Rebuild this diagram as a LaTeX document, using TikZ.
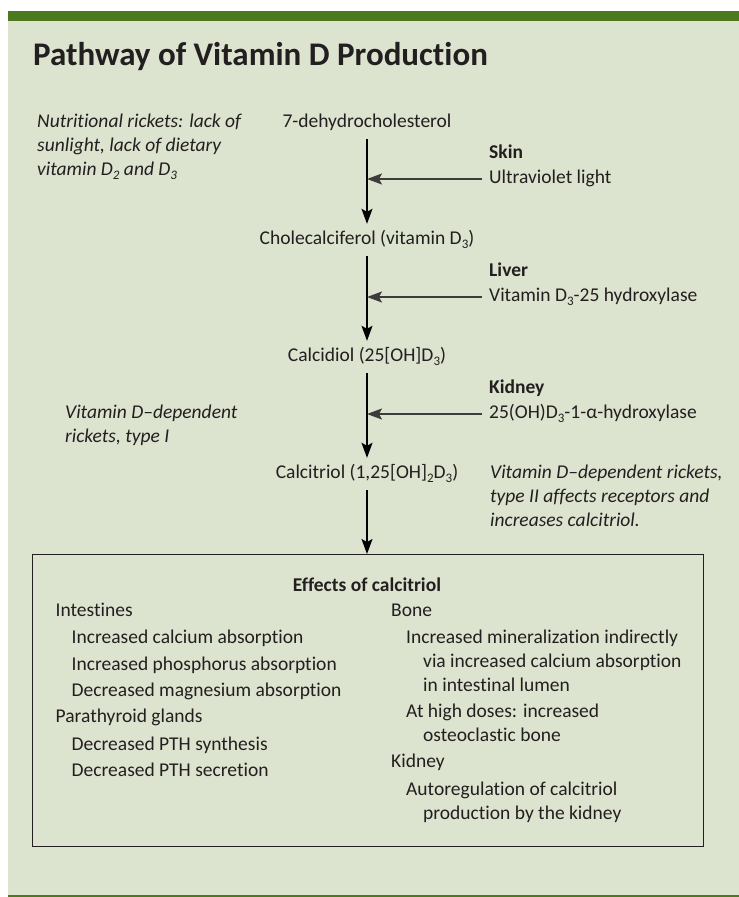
\documentclass[tikz,border=0pt]{standalone}
\usepackage{fontspec}
\setmainfont{Carlito}[Ligatures=NoCommon]
\usetikzlibrary{arrows.meta}
\definecolor{bg}{RGB}{220,227,206}
\definecolor{bar}{RGB}{78,122,31}
\definecolor{ink}{RGB}{35,31,32}
\definecolor{harrowc}{RGB}{60,60,60}
\newcommand\dn[1]{\raisebox{-0.22em}{\fontsize{13}{14}\selectfont #1}}
\begin{document}
\begin{tikzpicture}[x=1pt,y=-1pt,
  txt/.style={inner sep=0pt, text=ink, font=\fontsize{19.5}{22}\selectfont},
  itx/.style={txt, anchor=base west, font=\fontsize{19.5}{22}\selectfont\itshape},
  bld/.style={txt, anchor=base west, font=\fontsize{19.5}{22}\selectfont\bfseries},
  stage/.style={txt, anchor=base, text height=12pt, text depth=4pt, inner ysep=8pt, inner xsep=0pt},
  enz/.style={txt, anchor=base west, text height=12pt, text depth=4pt, inner xsep=7pt, inner ysep=0pt},
  bx/.style={txt, anchor=base west},
  varrow/.style={draw=black, line width=1.3pt, -{Stealth[length=15pt, width=11pt, inset=3pt]}},
  harrow/.style={draw=harrowc, line width=1.5pt, -{Stealth[length=15pt, width=11pt, inset=3pt]}}
]
\useasboundingbox (0,0) rectangle (739,897);
% background
\fill[bg] (8,21) rectangle (739,895);
\fill[bar] (8,10.5) rectangle (739,21);
\fill[bar] (8,894.5) rectangle (739,897);

% title
\node[anchor=base west, inner sep=0pt, text=ink, font=\fontsize{33}{38}\selectfont\bfseries] (title) at (33,65) {Pathway of Vitamin D Production};

% left notes
\node[itx] (nr1) at (37,127) {Nutritional rickets: lack of};
\node[itx] (nr2) at (37,151) {sunlight, lack of dietary};
\node[itx] (nr3) at (37,175) {vitamin D\dn{2} and D\dn{3}};
\node[itx] (vd1) at (65,418) {Vitamin D--dependent};
\node[itx] (vd2) at (65,442) {rickets, type I};

% stages
\node[stage] (dehydro) at (367,127) {7-dehydrocholesterol};
\node[stage] (chole) at (367,244) {Cholecalciferol (vitamin D\dn{3})};
\node[stage] (calcidiol) at (367,361) {Calcidiol (25[OH]D\dn{3})};
\node[stage] (calcitriol) at (367,478) {Calcitriol (1,25[OH]\dn{2}D\dn{3})};

% organs and enzymes
\node[bld] (skin) at (489,158) {Skin};
\node[enz] (uv) at (482,183) {Ultraviolet light};
\node[bld] (liver) at (489,276) {Liver};
\node[enz] (hyd25) at (482,301) {Vitamin D\dn{3}-25 hydroxylase};
\node[bld] (kidney) at (489,393) {Kidney};
\node[enz] (hyd1) at (482,418) {25(OH)D\dn{3}-1-α-hydroxylase};

% right note
\node[itx] (vt1) at (490,478) {Vitamin D--dependent rickets,};
\node[itx] (vt2) at (490,502) {type II affects receptors and};
\node[itx] (vt3) at (490,526) {increases calcitriol.};

% effects box
\node[draw=ink, line width=1.3pt, minimum width=671pt, minimum height=292pt, anchor=north west, inner sep=0pt] (box) at (32,554) {};
\node[txt, anchor=base, font=\fontsize{19.5}{22}\selectfont\bfseries] (eff) at (367,591) {Effects of calcitriol};

\node[bx] (i0) at (55.5,616) {Intestines};
\node[bx] (i1) at (71.5,643) {Increased calcium absorption};
\node[bx] (i2) at (71.5,670) {Increased phosphorus absorption};
\node[bx] (i3) at (71.5,696) {Decreased magnesium absorption};
\node[bx] (p0) at (55.5,722) {Parathyroid glands};
\node[bx] (p1) at (71.5,750) {Decreased PTH synthesis};
\node[bx] (p2) at (71.5,776) {Decreased PTH secretion};

\node[bx] (b0) at (391,616) {Bone};
\node[bx] (b1) at (406,643) {Increased mineralization indirectly};
\node[bx] (b2) at (423,667) {via increased calcium absorption};
\node[bx] (b3) at (423,691) {in intestinal lumen};
\node[bx] (b4) at (406,717) {At high doses: increased};
\node[bx] (b5) at (423,741) {osteoclastic bone};
\node[bx] (k0) at (391,767) {Kidney};
\node[bx] (k1) at (406,795) {Autoregulation of calcitriol};
\node[bx] (k2) at (423,819) {production by the kidney};

% connectors
\draw[varrow] (dehydro) -- (chole);
\draw[varrow] (chole) -- (calcidiol);
\draw[varrow] (calcidiol) -- (calcitriol);
\draw[varrow] (calcitriol.south) -- (calcitriol.south |- box.north);
\draw[harrow] (uv.west) -- (uv.west -| dehydro.south);
\draw[harrow] (hyd25.west) -- (hyd25.west -| chole.south);
\draw[harrow] (hyd1.west) -- (hyd1.west -| calcidiol.south);
\end{tikzpicture}
\end{document}
